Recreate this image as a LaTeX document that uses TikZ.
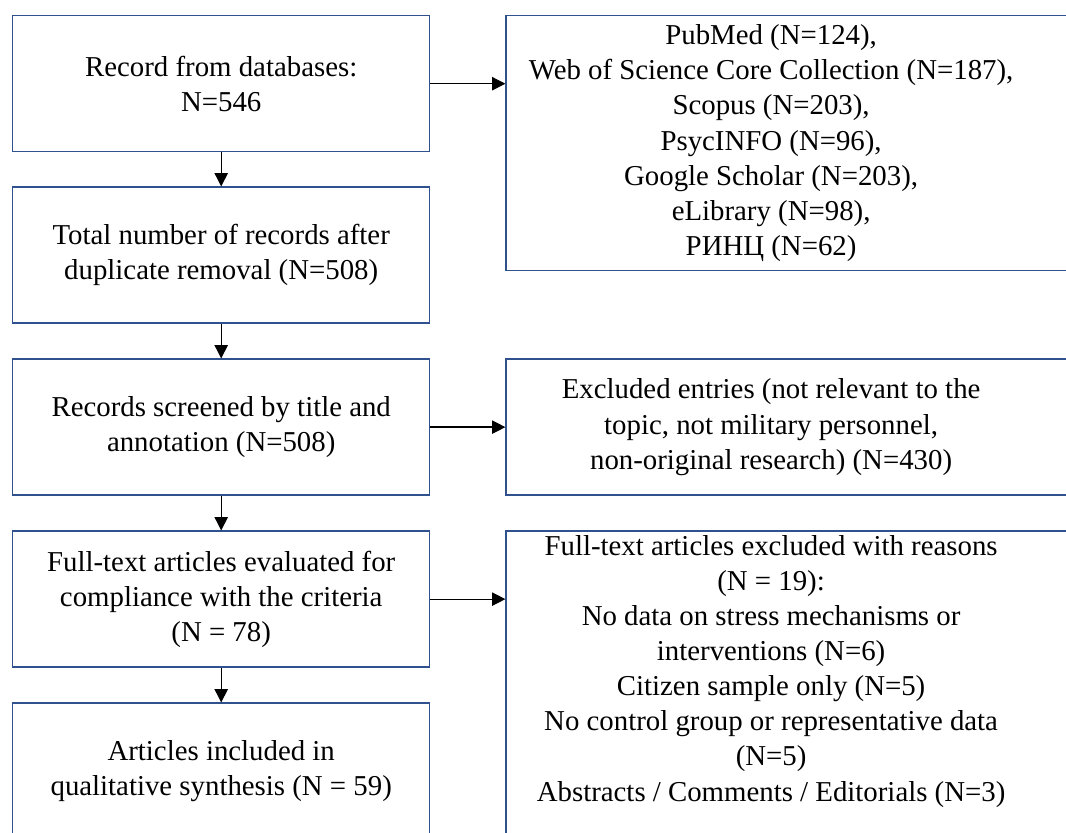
\documentclass[tikz,border=0pt]{standalone}
\usepackage{fontspec}
\setmainfont{Liberation Serif}
\usetikzlibrary{arrows.meta,positioning}
\definecolor{boxblue}{HTML}{2F528F}
\tikzset{
  lbox/.style={draw=boxblue, line width=1pt, align=center, fill=white,
    minimum width=10.425cm, minimum height=3.4cm, inner sep=4pt},
  rbox/.style={draw=boxblue, line width=1pt, fill=white, minimum width=16cm, inner sep=0pt},
  rtext/.style={align=center, inner sep=0pt},
  arr/.style={-{Triangle[length=9.5pt,width=9.5pt]}, line width=0.9pt}
}

\begin{document}
\begin{tikzpicture}[font=\fontsize{20.5}{25}\selectfont, node distance=0.865cm]
  \useasboundingbox (0,0) rectangle (26.65,-20.8);
  \clip (0,0) rectangle (26.65,-20.8);

  % main flow
  \node[lbox, anchor=north west] (rec) at (0.3,-0.375) {Record from databases:\\N=546};
  \node[lbox, below=0.85cm of rec] (dedup) {Total number of records after\\duplicate removal (N=508)};
  \node[lbox, below=of dedup] (screen) {Records screened by title and\\annotation (N=508)};
  \node[lbox, below=of screen] (fulltext) {Full-text articles evaluated for\\compliance with the criteria\\(N = 78)};
  \node[lbox, below=of fulltext] (incl) {Articles included in\\qualitative synthesis (N = 59)};

  % side boxes
  \node[rbox, minimum height=6.375cm, anchor=north west] (dbs) at ([xshift=1.875cm]rec.north east) {};
  \node[rbox, minimum height=3.4cm, right=1.875cm of screen] (excl) {};
  \node[rbox, minimum height=8cm, anchor=north west] (reasons) at ([xshift=1.875cm]fulltext.north east) {};

  \node[rtext] (dbslist) at ([xshift=-1.375cm]dbs.center) {PubMed (N=124),\\Web of Science Core Collection (N=187),\\Scopus (N=203),\\PsycINFO (N=96),\\Google Scholar (N=203),\\eLibrary (N=98),\\РИНЦ (N=62)};
  \node[rtext] (excltext) at ([xshift=-1.375cm]excl.center) {Excluded entries (not relevant to the\\topic, not military personnel,\\non-original research) (N=430)};
  \node[rtext] (reasonlist) at ([xshift=-1.375cm,yshift=0.5cm]reasons.center) {Full-text articles excluded with reasons\\(N = 19):\\No data on stress mechanisms or\\interventions (N=6)\\Citizen sample only (N=5)\\No control group or representative data\\(N=5)\\Abstracts / Comments / Editorials (N=3)};

  % arrows
  \draw[arr] (rec) -- (dedup);
  \draw[arr] (dedup) -- (screen);
  \draw[arr] (screen) -- (fulltext);
  \draw[arr] (fulltext) -- (incl);
  \draw[arr] (rec.east) -- (rec.east -| dbs.west);
  \draw[arr] (screen) -- (excl);
  \draw[arr] (fulltext.east) -- (fulltext.east -| reasons.west);
\end{tikzpicture}
\end{document}
